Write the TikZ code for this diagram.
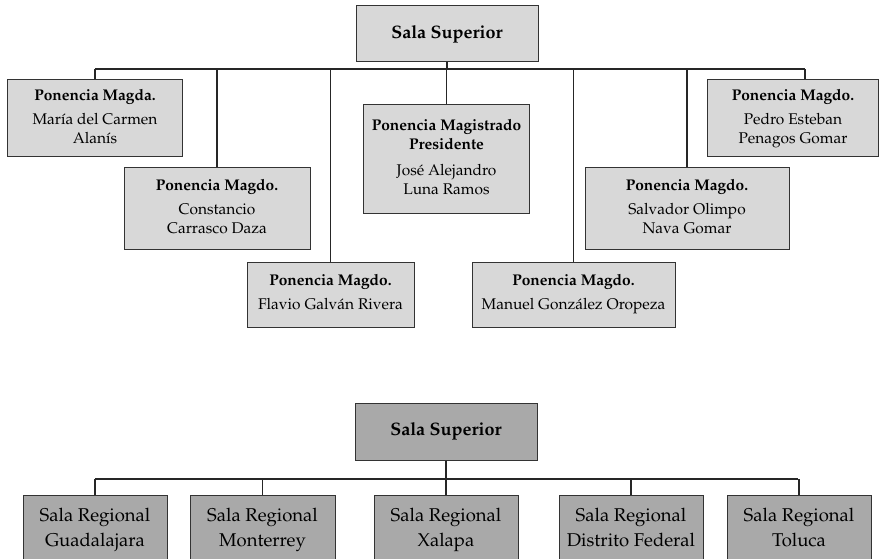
\documentclass[tikz,border=0pt]{standalone}
\usepackage[T1]{fontenc}
\renewcommand{\rmdefault}{ppl}
\definecolor{boxlight}{HTML}{D8D8D8}
\definecolor{boxdark}{HTML}{A9A9A9}
\definecolor{edge}{HTML}{333333}
\tikzset{
  lbox/.style={draw=edge, line width=1pt, fill=boxlight, align=center, inner sep=0pt,
    font=\fontsize{15.5}{19}\selectfont},
  dbox/.style={draw=edge, line width=1pt, fill=boxdark, align=center, inner sep=0pt,
    font=\fontsize{18.5}{25}\selectfont},
  conn/.style={draw=black!85, line width=1.2pt}
}
\newcommand{\dsc}{\vphantom{gjpy}}
\begin{document}
\begin{tikzpicture}[x=1pt,y=-1pt]
\useasboundingbox (0,0) rectangle (879,559);
\clip (0,0) rectangle (879,559);
% ---------- top chart ----------
\node[lbox, minimum width=182pt, minimum height=56pt, font=\fontsize{18}{22}\selectfont\bfseries] (ss1) at (447,34) {Sala Superior};
\coordinate (busL) at (95,69);
\coordinate (busR) at (805,69);
\node[lbox, minimum width=175pt, minimum height=77pt] (b1) at (95,118.5)
  {\textbf{Ponencia Magda.}\\[5pt]Mar\'{\i}a del Carmen\\Alan\'{\i}s\dsc};
\node[lbox, minimum width=186pt, minimum height=81pt] (b2) at (217,208.5)
  {\textbf{Ponencia Magdo.}\\[5pt]Constancio\\Carrasco Daza\dsc};
\node[lbox, minimum width=167pt, minimum height=65pt] (b3) at (330.5,294.5)
  {\textbf{Ponencia Magdo.}\\[5pt]Flavio Galv\'an Rivera\dsc};
\node[lbox, minimum width=166pt, minimum height=109pt] (b4) at (446.5,159.5)
  {\textbf{Ponencia Magistrado}\\\textbf{Presidente}\\[7pt]Jos\'e Alejandro\\Luna Ramos\dsc};
\node[lbox, minimum width=203pt, minimum height=65pt] (b5) at (573.5,294.5)
  {\textbf{Ponencia Magdo.}\\[5pt]Manuel Gonz\'alez Oropeza\dsc};
\node[lbox, minimum width=204pt, minimum height=81pt] (b6) at (687,208.5)
  {\textbf{Ponencia Magdo.}\\[5pt]Salvador Olimpo\\Nava Gomar\dsc};
\node[lbox, minimum width=171pt, minimum height=77pt] (b7) at (793,118.5)
  {\textbf{Ponencia Magdo.}\\[5pt]Pedro Esteban\\Penagos Gomar\dsc};
\draw[conn] (busL) -- (busR);
\draw[conn] (ss1.south) -- (ss1.south |- busL);
\draw[conn] (b1.north) -- (b1.north |- busL);
\draw[conn] (b2.north) -- (b2.north |- busL);
\draw[conn] (b3.north) -- (b3.north |- busL);
\draw[conn] (b4.north) -- (b4.north |- busL);
\draw[conn] (b5.north) -- (b5.north |- busL);
\draw[conn] (b6.north) -- (b6.north |- busL);
\draw[conn] (b7.north -| busR) -- (busR);
% ---------- bottom chart ----------
\node[dbox, minimum width=182pt, minimum height=57pt, font=\fontsize{18}{22}\selectfont\bfseries] (ss2) at (446,431.5) {Sala Superior};
\coordinate (bus2L) at (95,479);
\coordinate (bus2R) at (798,479);
\node[dbox, minimum width=144pt, minimum height=70pt] (r1) at (95,530) {Sala Regional\\Guadalajara\dsc};
\node[dbox, minimum width=145pt, minimum height=70pt] (r2) at (262.5,530) {Sala Regional\\Monterrey\dsc};
\node[dbox, minimum width=144pt, minimum height=70pt] (r3) at (446,530) {Sala Regional\\Xalapa\dsc};
\node[dbox, minimum width=144pt, minimum height=70pt] (r4) at (631,530) {Sala Regional\\Distrito Federal\dsc};
\node[dbox, minimum width=144pt, minimum height=70pt] (r5) at (799,530) {Sala Regional\\Toluca\dsc};
\draw[conn] (bus2L) -- (bus2R);
\draw[conn] (ss2.south) -- (ss2.south |- bus2L);
\draw[conn] (r1.north) -- (r1.north |- bus2L);
\draw[conn] (r2.north) -- (r2.north |- bus2L);
\draw[conn] (r3.north) -- (r3.north |- bus2L);
\draw[conn] (r4.north) -- (r4.north |- bus2L);
\draw[conn] (r5.north) -- (r5.north |- bus2L);
\end{tikzpicture}
\end{document}
